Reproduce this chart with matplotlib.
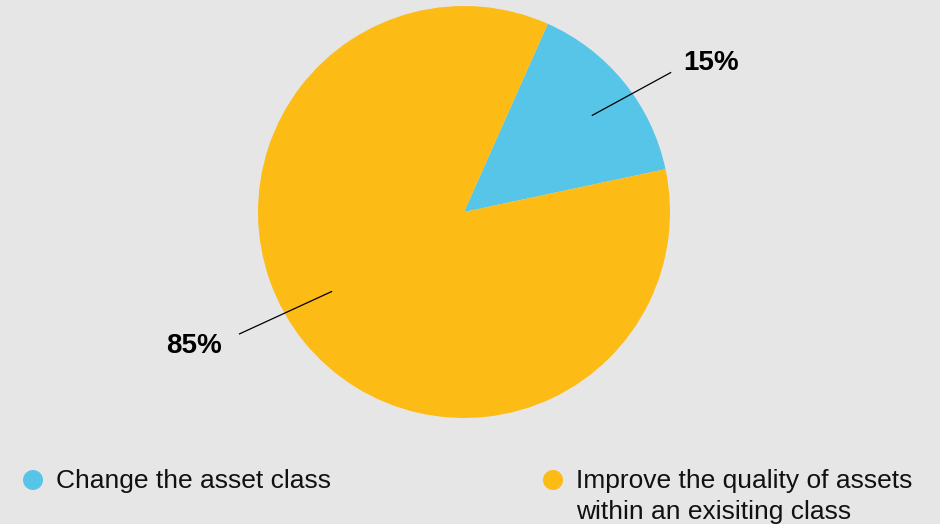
import numpy as np
import matplotlib.pyplot as plt
from matplotlib.patches import Circle

# share of answers
labels = ["Change the asset class", "Improve the quality of assets\nwithin an exisiting class"]
shares = [15, 85]
colors = ["#56C5E8", "#FDBB16"]

plt.rcParams['font.family'] = ['Liberation Sans', 'DejaVu Sans']

fig = plt.figure(figsize=(9.4, 5.24), dpi=100)
fig.patch.set_facecolor("#E6E6E6")
ax = fig.add_axes([0, 0, 1, 1])
ax.set_facecolor("#E6E6E6")

cx, cy, r = 464, 312, 206
wedges, _ = ax.pie(shares, colors=colors, startangle=66, counterclock=False,
                   center=(cx, cy), radius=r, frame=True,
                   wedgeprops=dict(linewidth=0))
ax.set_xlim(0, 940)
ax.set_ylim(0, 524)
ax.set_aspect("equal")
ax.axis("off")

# leader lines: angle shifts from the wedge middle and radii of both ends,
# then the offset of the percentage text from the outer end
leaders = [(-2, 0.78, -5, 1.21, (13, 10), "left"),
           (-8, 0.75, -10.5, 1.24, (-18, -12), "right")]
for w, s, (d0, r0, d1, r1, off, ha) in zip(wedges, shares, leaders):
    mid = (w.theta1 + w.theta2) / 2
    a0, a1 = np.deg2rad(mid + d0), np.deg2rad(mid + d1)
    p0 = (cx + r0 * r * np.cos(a0), cy + r0 * r * np.sin(a0))
    p1 = (cx + r1 * r * np.cos(a1), cy + r1 * r * np.sin(a1))
    ax.plot([p0[0], p1[0]], [p0[1], p1[1]], color="black", lw=0.9)
    ax.text(p1[0] + off[0], p1[1] + off[1], f"{s}%", ha=ha, va="center",
            fontsize=20, fontweight="bold", color="black")

# legend, one text per line so the first baselines line up
legend_x = [33, 553]
for x, lab, col in zip(legend_x, labels, colors):
    ax.add_patch(Circle((x, 44), 10, color=col, lw=0))
    for i, line in enumerate(lab.split("\n")):
        ax.text(x + 23, 36 - 31 * i, line, ha="left", va="baseline",
                fontsize=19, color="#111111")

fig.savefig("out.png", dpi=100, facecolor=fig.get_facecolor())
